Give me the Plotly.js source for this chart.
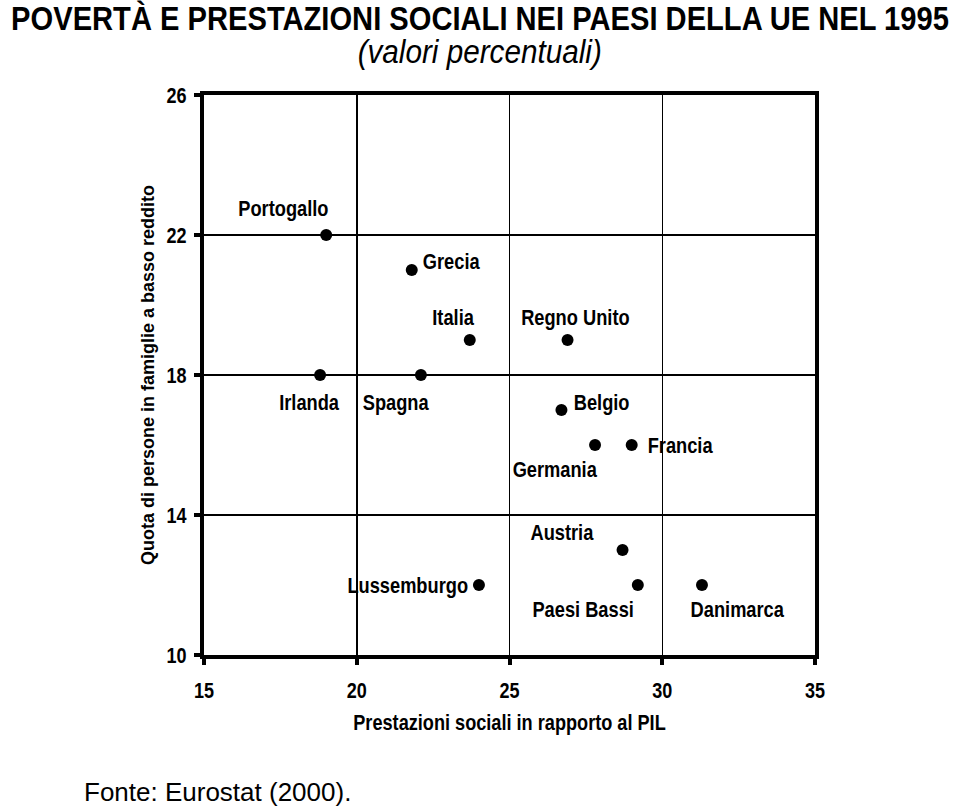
<!DOCTYPE html>
<html>
<head>
<meta charset="utf-8">
<script src="https://cdn.plot.ly/plotly-3.0.1.min.js"></script>
<style>
html,body{margin:0;padding:0;background:#fff;}
#chart{width:960px;height:808px;}
</style>
</head>
<body>
<div id="chart"></div>
<script>
// Data
const countries = ["Portogallo","Grecia","Italia","Regno Unito","Irlanda","Spagna","Belgio","Germania","Francia","Austria","Lussemburgo","Paesi Bassi","Danimarca"];
const socialBenefits = [19.0, 21.8, 23.7, 26.9, 18.8, 22.1, 26.7, 27.8, 29.0, 28.7, 24.0, 29.2, 31.3];
const lowIncomeShare = [22, 21, 19, 19, 18, 18, 17, 16, 16, 13, 12, 12, 12];
const xTicks = [15, 20, 25, 30, 35];
const yTicks = [10, 14, 18, 22, 26];

// Label placement (pixel offsets of label centre from each point)
const labelShift = {
  "Portogallo": [-43, 27],
  "Grecia": [40, 9],
  "Italia": [-16, 23],
  "Regno Unito": [8, 23],
  "Irlanda": [-11, -27],
  "Spagna": [-25, -27],
  "Belgio": [40, 8],
  "Germania": [-40, -24],
  "Francia": [49, 0],
  "Austria": [-60, 18],
  "Lussemburgo": [-71, 0],
  "Paesi Bassi": [-55, -24],
  "Danimarca": [36, -24]
};

const SANS = "'Liberation Sans', Arial, sans-serif";

const trace = {
  type: "scatter",
  mode: "markers",
  x: socialBenefits,
  y: lowIncomeShare,
  text: countries,
  marker: {color: "#000", size: 12},
  hoverinfo: "text+x+y",
  cliponaxis: false
};

const annotations = countries.map((c, i) => ({
  x: socialBenefits[i], y: lowIncomeShare[i], xref: "x", yref: "y",
  text: c, showarrow: false,
  xanchor: "center", yanchor: "middle",
  xshift: labelShift[c][0], yshift: labelShift[c][1],
  font: {family: SANS, size: 22, color: "#000", weight: "bold"}
}));

annotations.push({
  xref: "paper", yref: "paper", x: 0.4517, y: 1, yshift: 44,
  text: "<i>(valori percentuali)</i>", showarrow: false,
  xanchor: "center", yanchor: "middle", borderpad: 0,
  font: {family: SANS, size: 33, color: "#000"}
});
annotations.push({
  xref: "paper", yref: "paper", x: -0.198, y: 0, yshift: -137,
  text: "Fonte: Eurostat (2000).", showarrow: false,
  xanchor: "left", yanchor: "middle", borderpad: 0,
  font: {family: SANS, size: 26, color: "#000"}
});

const layout = {
  width: 960, height: 808,
  margin: {l: 204, r: 145, t: 95, b: 153},
  paper_bgcolor: "#fff", plot_bgcolor: "#fff",
  showlegend: false,
  title: {
    text: "POVERTÀ E PRESTAZIONI SOCIALI NEI PAESI DELLA UE NEL 1995",
    x: 0.5, xanchor: "center", y: 0.977, yanchor: "middle",
    font: {family: SANS, size: 34, color: "#000", weight: "bold"}
  },
  xaxis: {
    range: [15, 35], tickvals: xTicks, ticktext: xTicks.map(String),
    showgrid: true, gridcolor: "#000", gridwidth: 1.5,
    showline: true, linecolor: "#000", linewidth: 4, mirror: true,
    ticks: "outside", ticklen: 6, tickwidth: 4, tickcolor: "#000",
    ticklabelstandoff: 7,
    zeroline: false,
    tickfont: {family: SANS, size: 22, color: "#000", weight: "bold"},
    title: {text: "Prestazioni sociali in rapporto al PIL", standoff: 13,
      font: {family: SANS, size: 22, color: "#000", weight: "bold"}}
  },
  yaxis: {
    range: [10, 26], tickvals: yTicks, ticktext: yTicks.map(String),
    showgrid: true, gridcolor: "#000", gridwidth: 1.5,
    showline: true, linecolor: "#000", linewidth: 4, mirror: true,
    ticks: "outside", ticklen: 6, tickwidth: 4, tickcolor: "#000",
    ticklabelstandoff: 3,
    zeroline: false,
    tickfont: {family: SANS, size: 22, color: "#000", weight: "bold"},
    title: {text: "Quota di persone in famiglie a basso reddito", standoff: 4,
      font: {family: SANS, size: 18, color: "#000", weight: "bold"}}
  },
  annotations: annotations
};

// Narrow-font look: squeeze text horizontally about its anchor point
function squeeze(el, s) {
  const x = parseFloat(el.getAttribute("x")) || 0;
  const t = el.getAttribute("transform") || "";
  el.setAttribute("transform", t + " translate(" + x + ",0) scale(" + s + ",1) translate(" + (-x) + ",0)");
}

Plotly.newPlot("chart", [trace], layout, {displayModeBar: false, staticPlot: true}).then(gd => {
  gd.querySelectorAll(".gtitle").forEach(el => squeeze(el, 0.857));
  gd.querySelectorAll(".xtick text, .ytick text").forEach(el => squeeze(el, 0.82));
  gd.querySelectorAll(".xtitle").forEach(el => squeeze(el, 0.825));
  const ann = gd.querySelectorAll(".annotation");
  ann.forEach((g, i) => {
    const t = g.querySelector("text.annotation-text");
    if (!t) return;
    if (i < countries.length) squeeze(t, 0.83);
    else if (i === countries.length) squeeze(t, 0.9);
  });
});
</script>
</body>
</html>
